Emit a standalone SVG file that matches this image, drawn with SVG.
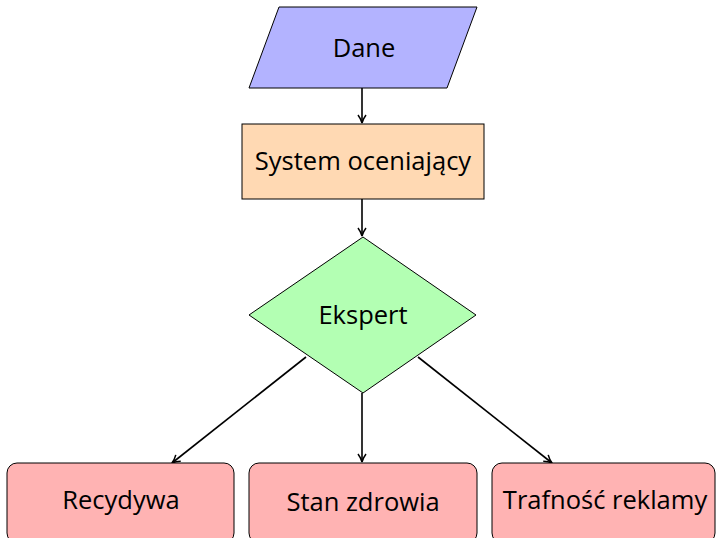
<svg xmlns="http://www.w3.org/2000/svg" width="716" height="538" viewBox="0 0 716 538">
<style>
.n{stroke:#000;stroke-width:1}
.t{font-family:"Open Sans","Liberation Sans",sans-serif;font-size:25.5px;fill:#000;text-anchor:middle;dominant-baseline:central}
.e{stroke:#000;stroke-width:1.6;fill:none;marker-end:url(#ah)}
</style>
<defs>
<marker id="ah" viewBox="0 0 10 10" refX="9" refY="5" markerWidth="10" markerHeight="10" markerUnits="userSpaceOnUse" orient="auto">
<path d="M1,1 Q5,4 9,5 Q5,6 1,9" fill="none" stroke="#000" stroke-width="1.5"/>
</marker>
</defs>
<g id="connectors">
<line class="e" x1="362" y1="88" x2="362" y2="123"/>
<line class="e" x1="362" y1="199" x2="362" y2="236"/>
<line class="e" x1="362" y1="393" x2="362" y2="462"/>
<line class="e" x1="306" y1="357" x2="172" y2="463"/>
<line class="e" x1="418" y1="357" x2="552" y2="463"/>
</g>
<g id="dane">
<polygon class="n" points="279,7 477,7 447,88 249,88" fill="#b3b3ff"/>
<text class="t" x="364" y="47">Dane</text>
</g>
<g id="system">
<rect class="n" x="242" y="124" width="242" height="75" fill="#ffd9b3"/>
<text class="t" x="363" y="160">System oceniający</text>
</g>
<g id="ekspert">
<polygon class="n" points="363,237 476,315 363,393 249,315" fill="#b3ffb3"/>
<text class="t" x="363" y="314">Ekspert</text>
</g>
<g id="recydywa">
<rect class="n" x="7" y="463" width="227" height="80" rx="10" fill="#ffb3b3"/>
<text class="t" x="121" y="499">Recydywa</text>
</g>
<g id="stan">
<rect class="n" x="249" y="463" width="228" height="80" rx="10" fill="#ffb3b3"/>
<text class="t" x="363" y="501">Stan zdrowia</text>
</g>
<g id="trafnosc">
<rect class="n" x="492" y="463" width="223" height="80" rx="10" fill="#ffb3b3"/>
<text class="t" x="605" y="499">Trafność reklamy</text>
</g>
</svg>
